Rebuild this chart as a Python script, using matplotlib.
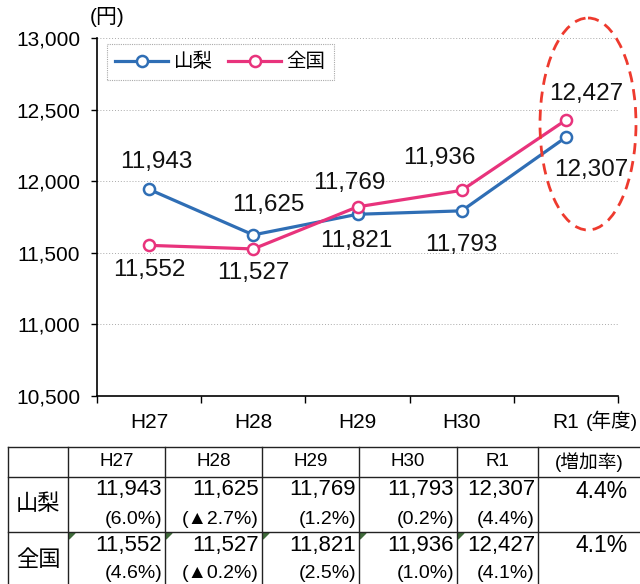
import matplotlib.pyplot as plt
from matplotlib.patches import Ellipse, Polygon
from matplotlib.ticker import FuncFormatter, FixedLocator

plt.rcParams['font.family'] = ['Liberation Sans', 'Noto Sans CJK JP']

# data
years = ["H27", "H28", "H29", "H30", "R1"]
yamanashi = [11943, 11625, 11769, 11793, 12307]
zenkoku = [11552, 11527, 11821, 11936, 12427]
yamanashi_rate = ["(6.0%)", "(▲2.7%)", "(1.2%)", "(0.2%)", "(4.4%)"]
zenkoku_rate = ["(4.6%)", "(▲0.2%)", "(2.5%)", "(1.0%)", "(4.1%)"]
total_rate = ["4.4%", "4.1%"]

blue = "#2f6eb5"
pink = "#e8337c"

fig = plt.figure(figsize=(6.4, 5.84), dpi=100)
ax = fig.add_axes([97 / 640, 1 - 396 / 584, 521 / 640, 358 / 584])

x = range(len(years))
ax.plot(x, yamanashi, color=blue, lw=2.3, marker="o", ms=8, mfc="white", mec=blue, mew=1.8, label="山梨", zorder=3)
ax.plot(x, zenkoku, color=pink, lw=2.3, marker="o", ms=8, mfc="white", mec=pink, mew=1.8, label="全国", zorder=4)

# point labels (text, index, anchor value, dx px, dy px)
labels = [
    ("11,943", 0, yamanashi[0], 7, 27),
    ("11,552", 0, zenkoku[0], 0, -25),
    ("11,625", 1, yamanashi[1], 15, 30),
    ("11,527", 1, zenkoku[1], 0, -24),
    ("11,769", 2, zenkoku[2], -8, 24),
    ("11,821", 2, yamanashi[2], -1, -27),
    ("11,936", 3, zenkoku[3], -22, 32),
    ("11,793", 3, yamanashi[3], 0, -34),
    ("12,427", 4, zenkoku[4], 20, 26),
    ("12,307", 4, yamanashi[4], 25, -33),
]
for txt, i, v, dx, dy in labels:
    ax.annotate(txt, (i, v), xytext=(dx * 0.72, dy * 0.72), textcoords="offset points",
                ha="center", va="center", fontsize=17.5, color="#111111", zorder=5)

ax.set_xlim(-0.5, 4.5)
ax.set_ylim(10500, 13000)
ax.set_yticks(range(10500, 13001, 500))
ax.yaxis.set_major_formatter(FuncFormatter(lambda v, p: f"{int(v):,}"))
ax.set_xticks(list(x))
ax.set_xticklabels(years)
ax.xaxis.set_minor_locator(FixedLocator([-0.5, 0.5, 1.5, 2.5, 3.5, 4.5]))
ax.tick_params(axis="x", which="major", length=0, pad=12, labelsize=15)
ax.tick_params(axis="x", which="minor", length=5, direction="out", width=1)
ax.tick_params(axis="y", length=4, width=1, pad=8, labelsize=15)
ax.grid(axis="y", color="#aaaaaa", linestyle=(0, (1, 2)), linewidth=0.7)
for s in ["top", "right"]:
    ax.spines[s].set_visible(False)
ax.spines["left"].set_linewidth(1.2)
ax.spines["bottom"].set_linewidth(1.2)

leg = ax.legend(loc="upper left", bbox_to_anchor=(0.0, 1.01), ncol=2, fontsize=14,
                handlelength=2.7, columnspacing=0.8, handletextpad=0.3, fancybox=False,
                borderpad=0.45, framealpha=1)
leg.get_frame().set_edgecolor("#aaaaaa")
leg.get_frame().set_linewidth(0.8)
leg.get_frame().set_linestyle((0, (1, 1)))

# overlay in pixel coords for unit text, ellipse and table
ov = fig.add_axes([0, 0, 1, 1], zorder=10)
ov.set_xlim(0, 640)
ov.set_ylim(584, 0)
ov.axis("off")
ov.patch.set_alpha(0)

ov.text(107, 17, "(円)", ha="center", va="center", fontsize=15)
ov.text(586, 421, "(年度)", ha="left", va="center", fontsize=14)
ov.add_patch(Ellipse((588, 124), 96, 212, fill=False, edgecolor="#ee3a2e", lw=2, linestyle=(0, (4, 2.5))))

# table
col_edges = [8, 68, 165, 262, 359, 457, 538, 660]
row_edges = [447, 477, 532, 600]
for xe in col_edges:
    ov.plot([xe, xe], [row_edges[0], row_edges[-1]], color="#222222", lw=1)
for ye in row_edges:
    ov.plot([col_edges[0], col_edges[-1]], [ye, ye], color="#222222", lw=1)

for j, yr in enumerate(years):
    cx = (col_edges[j + 1] + col_edges[j + 2]) / 2
    ov.text(cx, 462, yr, ha="center", va="center", fontsize=13.5)
ov.text(589, 462, "(増加率)", ha="center", va="center", fontsize=13.5)

rows = [("山梨", yamanashi, yamanashi_rate, total_rate[0]),
        ("全国", zenkoku, zenkoku_rate, total_rate[1])]
for r, (name, vals, rates, tot) in enumerate(rows):
    top = row_edges[r + 1]
    ov.text(38, top + 28, name, ha="center", va="center", fontsize=16)
    for j in range(len(years)):
        xr = col_edges[j + 2] - 3
        ov.text(xr, top + 13, f"{vals[j]:,}", ha="right", va="center", fontsize=16)
        ov.text(xr, top + 42, rates[j], ha="right", va="center", fontsize=14)
    ov.text(628, top + 14, tot, ha="right", va="center", fontsize=16.5)

# small green marks at cell corners of the 全国 row
for xe in col_edges[1:6]:
    ov.add_patch(Polygon([[xe + 1, row_edges[2] + 1], [xe + 7, row_edges[2] + 1], [xe + 1, row_edges[2] + 7]],
                         closed=True, color="#3f6b3a"))

fig.savefig("out.png", dpi=100)
